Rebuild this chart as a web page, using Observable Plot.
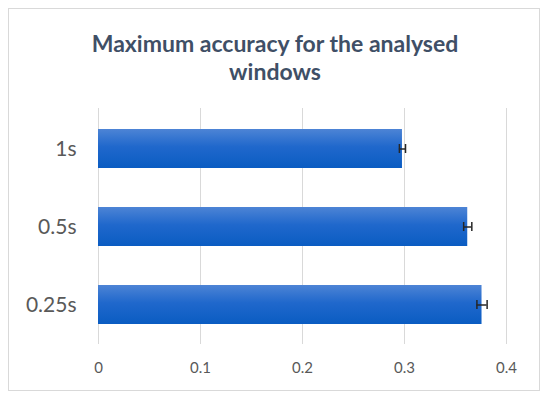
<!DOCTYPE html>
<html>
<head>
<meta charset="utf-8">
<script src="https://cdn.jsdelivr.net/npm/d3@7"></script>
<script src="https://cdn.jsdelivr.net/npm/@observablehq/plot@0.6"></script>
<style>
  html, body { margin: 0; padding: 0; background: #fff; }
  #wrap { position: relative; width: 550px; height: 402px; overflow: hidden; }
  #frame { position: absolute; left: 8px; top: 8px; width: 530px; height: 381px; border: 1px solid #d9d9d9; box-sizing: content-box; }
  #title { position: absolute; left: 0; top: 29px; width: 550px; text-align: center;
           font-family: Lato, "Open Sans", sans-serif; font-weight: bold; font-size: 23px;
           line-height: 28px; color: #3f4f66; }
  #chart { position: absolute; left: 0; top: 0; }
</style>
</head>
<body>
<div id="wrap">
  <div id="frame"></div>
  <div id="title">Maximum accuracy for the analysed<br>windows</div>
  <div id="chart"></div>
</div>
<script>
const windows = ["1s", "0.5s", "0.25s"];
const accuracy = [0.298, 0.362, 0.376];
const errors = [0.003, 0.004, 0.005];
const xTicks = [0, 0.1, 0.2, 0.3, 0.4];

const data = windows.map((w, i) => ({w, v: accuracy[i], e: errors[i]}));

const gradient = () => {
  const ns = "http://www.w3.org/2000/svg";
  const defs = document.createElementNS(ns, "defs");
  defs.innerHTML = `<linearGradient id="barGrad" x1="0" y1="0" x2="0" y2="1">
      <stop offset="0" stop-color="#4d84d5"/>
      <stop offset="0.45" stop-color="#2068cc"/>
      <stop offset="1" stop-color="#0a5cc2"/>
    </linearGradient>`;
  return defs;
};

const plot = Plot.plot({
  width: 550,
  height: 402,
  marginTop: 108,
  marginBottom: 58,
  marginLeft: 98,
  marginRight: 44,
  style: {fontFamily: "Lato, 'Open Sans', sans-serif", background: "transparent"},
  x: {domain: [0, 0.4], ticks: xTicks, grid: false, label: null},
  y: {domain: windows, paddingInner: 0.5, paddingOuter: 0.25, label: null},
  marks: [
    gradient,
    Plot.ruleX(xTicks, {x: d => d, stroke: "#d9d9d9", strokeWidth: 1, strokeOpacity: 1}),
    Plot.barX(data, {y: "w", x: "v", fill: "url(#barGrad)"}),
    Plot.ruleY(data, {y: "w", x1: d => d.v - d.e, x2: d => d.v + d.e, stroke: "#262626", strokeWidth: 1.5}),
    Plot.tickX(data, {y: "w", x: d => d.v - d.e, stroke: "#262626", strokeWidth: 1.5, insetTop: 15, insetBottom: 15}),
    Plot.tickX(data, {y: "w", x: d => d.v + d.e, stroke: "#262626", strokeWidth: 1.5, insetTop: 15, insetBottom: 15}),
    Plot.axisX({ticks: xTicks, tickSize: 0, tickPadding: 18, fontSize: 15, color: "#595959", tickFormat: d => String(d), label: null}),
    Plot.axisY({tickSize: 0, tickPadding: 22, fontSize: 21, color: "#595959", label: null})
  ]
});
document.getElementById("chart").appendChild(plot);
</script>
</body>
</html>
